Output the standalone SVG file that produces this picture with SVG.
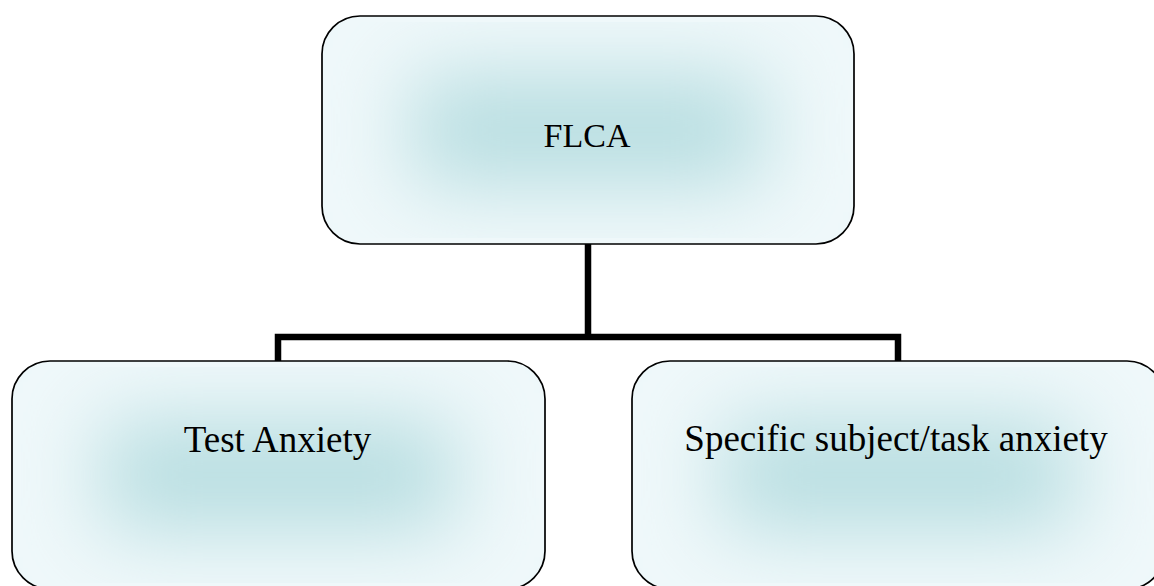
<svg xmlns="http://www.w3.org/2000/svg" width="1154" height="586" viewBox="0 0 1154 586">
  <defs>
    <!-- soft rectangular glow used as the shaded centre of each box -->
    <filter id="soften" x="-50%" y="-50%" width="200%" height="200%">
      <feGaussianBlur stdDeviation="42"/>
    </filter>
    <clipPath id="clipRoot"><rect x="322" y="16" width="532" height="228" rx="38" ry="38"/></clipPath>
    <clipPath id="clipLeft"><rect x="12" y="361" width="533" height="228" rx="38" ry="38"/></clipPath>
    <clipPath id="clipRight"><rect x="632" y="361" width="533" height="228" rx="38" ry="38"/></clipPath>
    <style>
      .base { fill: #eff8fa; }
      .glow { fill: #b6dde0; filter: url(#soften); }
      .edge { fill: none; stroke: #000; stroke-width: 1.7; }
      .label { font-family: "Liberation Serif", "Times New Roman", serif; fill: #000; text-anchor: middle; }
      .wire { fill: none; stroke: #000; stroke-width: 6.5; stroke-linejoin: miter; stroke-linecap: butt; }
    </style>
  </defs>
  <rect width="1154" height="586" fill="#fff"/>

  <!-- connectors from the root to the two branches -->
  <g id="connectors">
    <path class="wire" d="M588,244 V337 M278,361 V337 H898 V361"/>
  </g>

  <g id="node-flca">
    <g clip-path="url(#clipRoot)">
      <rect class="base" x="322" y="16" width="532" height="228"/>
      <rect class="glow" x="412" y="76" width="352" height="108"/>
    </g>
    <rect class="edge" x="322" y="16" width="532" height="228" rx="38" ry="38"/>
    <text class="label" x="587" y="147" font-size="34">FLCA</text>
  </g>

  <g id="node-test-anxiety">
    <g clip-path="url(#clipLeft)">
      <rect class="base" x="12" y="361" width="533" height="228"/>
      <rect class="glow" x="102" y="421" width="353" height="108"/>
    </g>
    <rect class="edge" x="12" y="361" width="533" height="228" rx="38" ry="38"/>
    <text class="label" x="277.5" y="451.5" font-size="37">Test Anxiety</text>
  </g>

  <g id="node-specific-anxiety">
    <g clip-path="url(#clipRight)">
      <rect class="base" x="632" y="361" width="533" height="228"/>
      <rect class="glow" x="722" y="421" width="353" height="108"/>
    </g>
    <rect class="edge" x="632" y="361" width="533" height="228" rx="38" ry="38"/>
    <text class="label" x="896" y="451" font-size="37">Specific subject/task anxiety</text>
  </g>
</svg>
